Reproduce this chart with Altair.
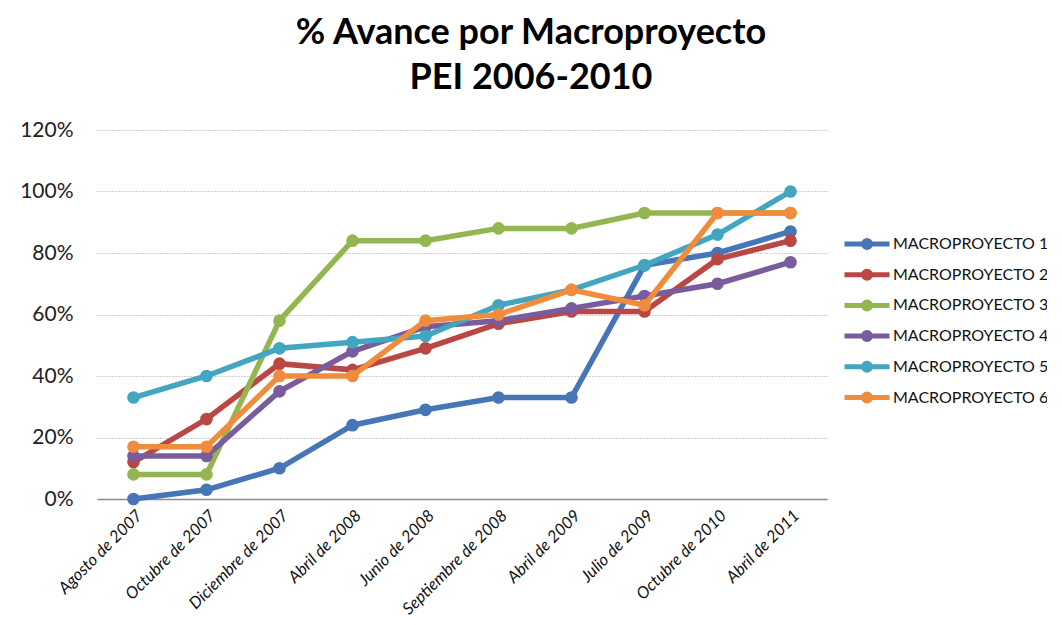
import altair as alt
import pandas as pd

fechas = ["Agosto de 2007", "Octubre de 2007", "Diciembre de 2007", "Abril de 2008",
          "Junio de 2008", "Septiembre de 2008", "Abril de 2009", "Julio de 2009",
          "Octubre de 2010", "Abril de 2011"]
series = ["MACROPROYECTO 1", "MACROPROYECTO 2", "MACROPROYECTO 3",
          "MACROPROYECTO 4", "MACROPROYECTO 5", "MACROPROYECTO 6"]
m1 = [0, 3, 10, 24, 29, 33, 33, 76, 80, 87]
m2 = [12, 26, 44, 42, 49, 57, 61, 61, 78, 84]
m3 = [8, 8, 58, 84, 84, 88, 88, 93, 93, 93]
m4 = [14, 14, 35, 48, 56, 58, 62, 66, 70, 77]
m5 = [33, 40, 49, 51, 53, 63, 68, 76, 86, 100]
m6 = [17, 17, 40, 40, 58, 60, 68, 63, 93, 93]
colores = ["#4776B6", "#BA4744", "#93B650", "#785C9C", "#42A6C1", "#F08C3C"]
y_ticks = [0, 20, 40, 60, 80, 100, 120]

valores = [m1, m2, m3, m4, m5, m6]
rows = []
for s, vals in zip(series, valores):
    for f, v in zip(fechas, vals):
        rows.append({"fecha": f, "serie": s, "valor": v})
df = pd.DataFrame(rows)

x_enc = alt.X("fecha:N", sort=fechas, title=None,
              scale=alt.Scale(type="point", padding=0.5),
              axis=alt.Axis(labelAngle=-45, labelFontSize=16.5, labelFont="Lato",
                            labelFontStyle="italic",
                            labelColor="#111", ticks=False, domain=True,
                            domainColor="#8c8c8c", domainWidth=1.5, grid=False,
                            labelPadding=8))
y_enc = alt.Y("valor:Q", title=None,
              scale=alt.Scale(domain=[0, 120], nice=False),
              axis=alt.Axis(values=y_ticks, labelExpr="datum.value + '%'",
                            labelFontSize=21, labelFont="Lato", labelColor="#222",
                            domain=False, ticks=False, labelPadding=24,
                            grid=True, gridColor="#9a9a9a", gridDash=[1, 2],
                            gridWidth=1))
color_enc = alt.Color("serie:N", sort=series, title=None,
                      scale=alt.Scale(domain=series, range=colores))

base = alt.Chart(df)
layers = []
for s in series:
    layers.append(
        base.transform_filter(alt.datum.serie == s)
        .mark_line(strokeWidth=5.5, point=alt.OverlayMarkDef(filled=True, size=160, opacity=1))
        .encode(x=x_enc, y=y_enc, color=color_enc)
    )

chart = alt.layer(*layers).properties(
    width=730, height=369,
    autosize=alt.AutoSizeParams(type="none"),
    padding={"left": 89, "top": 122, "right": 220, "bottom": 118},
    title=alt.TitleParams(
        text=["% Avance por Macroproyecto", "PEI 2006-2010"],
        font="Lato", fontSize=36, fontWeight="bold", color="#000",
        anchor="middle", lineHeight=45, dx=69, offset=22,
    ),
).configure_view(stroke=None).configure_legend(
    orient="none", legendX=755, legendY=99, padding=0,
    symbolType="M-1.8,0L1.8,0M-0.28,0A0.28,0.28 0 1,1 0.28,0A0.28,0.28 0 1,1 -0.28,0Z",
    symbolSize=625, symbolStrokeWidth=5, labelFont="Lato", labelFontSize=16,
    labelColor="#111", labelOffset=11, rowPadding=1.7, labelLimit=300,
)

chart.save("out.html", embed_options={"renderer": "svg", "actions": False})
